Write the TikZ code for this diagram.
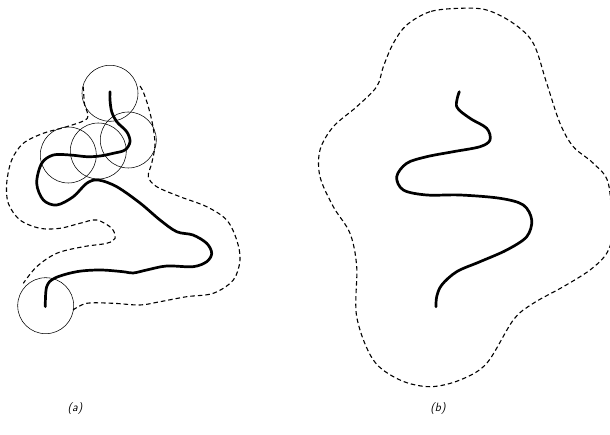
\documentclass[tikz,border=0pt]{standalone}
\usetikzlibrary{calc}
\begin{document}
\begin{tikzpicture}[x=1pt,y=-1pt,
  chain/.style={line width=2.7pt,line cap=round,line join=round},
  envelope/.style={line width=1.1pt,dash pattern=on 4.5pt off 3pt},
  probe/.style={line width=0.55pt},
  caption/.style={font=\sffamily\itshape\large}]
\useasboundingbox (0,0) rectangle (610,435);

% ---- (a): chain with probe spheres and accessible envelope ----
\draw[chain] plot[smooth,tension=0.55] coordinates {
  (45.3,306.7) (46.7,286.7) (55,278) (76.7,271.7) (100,270) (123,271.7)
  (133,273) (146.7,270) (166.7,266) (193,266.7) (206.7,261.7) (211.7,253.3)
  (206.7,243.3) (193,235) (176.7,231.7) (160,220) (140,203) (116.7,186.7)
  (98.3,180) (86.7,183.3) (73.3,196.7) (56.7,205) (43.3,200) (36.7,183.3)
  (41.7,163.3) (53.3,155) (70,155) (86.7,156.7) (100,156) (113.3,153.3)
  (125,150) (130,141.7) (126.7,131.7) (116.7,121.7) (111.7,111.7) (110,100)
  (110,91.7)};

\draw[probe] (110,93.3) circle (28);
\draw[probe] (128.3,140) circle (28);
\draw[probe] (98.3,151) circle (28);
\draw[probe] (68.3,155) circle (28);
\draw[probe] (45.7,305.7) circle (28);

\draw[envelope] plot[smooth,tension=0.55] coordinates {
  (83.3,86.7) (84.5,104) (87.3,118.3) (66.7,126.7) (43.3,133.3) (23.3,143.3)
  (11.7,160) (6.7,183.3) (8.3,203.3) (20,220) (40,228.3) (60,228.3)
  (80,223.3) (96.7,220) (111.7,228.3) (115,238.3) (106.7,243.3) (83.3,246.7)
  (56.7,253.3) (36.7,266.7) (23.3,283.3)};

\draw[envelope] plot[smooth,tension=0.55] coordinates {
  (140,86) (143.3,92) (148.3,106.7) (152.7,125) (155,145) (151.7,163.3)
  (148.3,176.7) (156.7,186.7) (180,196.7) (206.7,206.7) (226.7,220)
  (236.7,240) (240,260) (233.3,280) (213.3,293.3) (186.7,296.7) (160,301.7)
  (140,305) (113.3,303.3) (86.7,303.3) (73,310)};

\node[caption] (capa) at (75,409) {(a)};

% ---- (b): chain with its smooth envelope ----
\draw[chain] plot[smooth,tension=0.55] coordinates {
  (459.3,91.7) (456.7,106.7) (470,118.3) (486.7,128.3) (490,140)
  (480,146.7) (453.3,151.7) (426.7,156.7) (406.7,163.3) (396.7,176.7)
  (403.3,190) (426.7,195) (460,195) (500,198.3) (523.3,205) (531.7,220)
  (526.7,236.7) (506.7,250) (480,261.7) (456.7,271.7) (441.7,285)
  (436.7,296.7) (436,306.7)};

\draw[envelope] plot[smooth cycle,tension=0.55] coordinates {
  (460,8.3) (430,11.7) (406.7,25) (393.3,43.3) (383.3,66.7) (376.7,86.7)
  (356.7,106.7) (333.3,126.7) (320,150) (320,176.7) (333.3,206.7)
  (350,233.3) (356.7,266.7) (356.7,316.7) (373.3,360) (400,380)
  (430,386.7) (460,380) (486.7,363.3) (513.3,320) (533.3,303.3)
  (563.3,286.7) (590,270) (606.7,253.3) (611.7,233.3) (608.3,183.3)
  (593.3,163.3) (573.3,146.7) (560,123.3) (546.7,83.3) (533.3,43.3)
  (513.3,23.3) (486.7,10)};

\node[caption] (capb) at (438,409) {(b)};
\end{tikzpicture}
\end{document}
